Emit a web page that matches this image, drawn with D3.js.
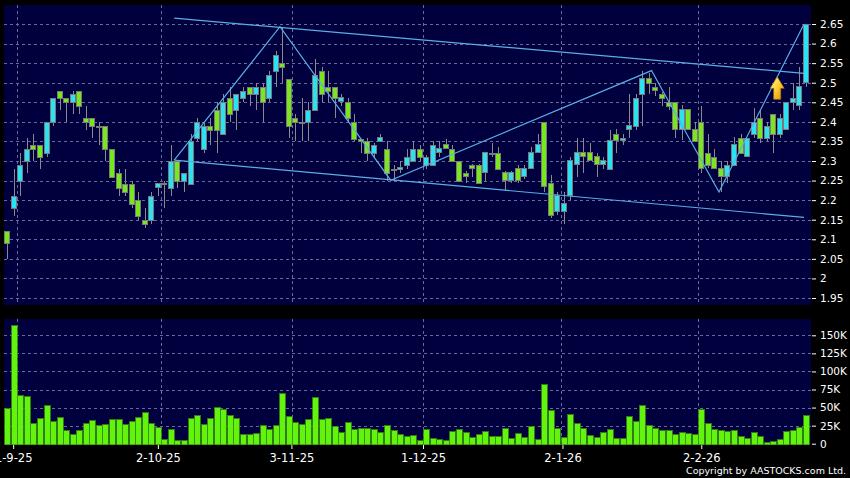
<!DOCTYPE html>
<html>
<head>
<meta charset="utf-8">
<script src="https://cdn.jsdelivr.net/npm/d3@7/dist/d3.min.js"></script>
<style>
  html, body { margin: 0; padding: 0; background: #000; }
  svg { display: block; font-family: "DejaVu Sans", Verdana, sans-serif; }
</style>
</head>
<body>
<svg id="chart" width="850" height="478"></svg>
<script>
'use strict';

// daily candles, index 0 = first bar on the left
var opens  = [2.12,2.18,2.25,2.30,2.34,2.34,2.32,2.40,2.48,2.46,2.45,2.48,2.41,2.41,2.39,2.39,2.33,2.27,2.24,2.24,
              2.20,2.15,2.15,2.233,2.243,2.23,2.30,2.25,2.24,2.36,2.33,2.39,2.43,2.37,2.46,2.43,2.46,2.49,2.47,2.49,
              2.46,2.53,2.55,2.51,2.41,2.40,2.40,2.43,2.53,2.49,2.49,2.453,2.45,2.40,2.355,2.35,2.32,2.352,2.33,2.28,
              2.28,2.29,2.30,2.33,2.29,2.29,2.322,2.343,2.33,2.30,2.27,2.291,2.29,2.272,2.32,2.32,2.272,2.251,2.281,2.262,
              2.281,2.322,2.40,2.245,2.172,2.172,2.213,2.292,2.322,2.322,2.313,2.292,2.28,2.37,2.353,2.381,2.39,2.47,2.511,2.49,
              2.471,2.452,2.452,2.381,2.432,2.381,2.40,2.321,2.311,2.281,2.262,2.291,2.36,2.313,2.37,2.411,2.36,2.42,2.37,2.381,
              2.452,2.443,2.503];
var highs  = [2.12,2.28,2.32,2.36,2.37,2.34,2.40,2.46,2.48,2.46,2.48,2.48,2.44,2.41,2.40,2.39,2.33,2.28,2.28,2.25,
              2.22,2.18,2.22,2.245,2.25,2.34,2.30,2.27,2.37,2.41,2.40,2.41,2.45,2.47,2.49,2.47,2.49,2.49,2.50,2.50,
              2.53,2.58,2.64,2.51,2.42,2.46,2.45,2.56,2.54,2.53,2.49,2.47,2.46,2.42,2.355,2.36,2.345,2.37,2.35,2.29,
              2.30,2.33,2.35,2.34,2.315,2.35,2.35,2.355,2.34,2.30,2.275,2.293,2.293,2.322,2.345,2.335,2.275,2.275,2.29,2.29,
              2.335,2.37,2.40,2.264,2.22,2.22,2.31,2.36,2.36,2.345,2.32,2.31,2.38,2.383,2.37,2.47,2.47,2.53,2.525,2.50,
              2.475,2.49,2.452,2.443,2.432,2.40,2.44,2.37,2.33,2.30,2.30,2.362,2.37,2.36,2.435,2.43,2.40,2.42,2.42,2.452,
              2.50,2.54,2.65];
var lows   = [2.05,2.16,2.21,2.27,2.30,2.28,2.31,2.39,2.43,2.40,2.42,2.42,2.38,2.36,2.34,2.30,2.26,2.21,2.21,2.18,
              2.15,2.13,2.14,2.21,2.18,2.21,2.23,2.22,2.24,2.35,2.32,2.34,2.32,2.37,2.40,2.38,2.45,2.44,2.43,2.40,
              2.45,2.49,2.50,2.36,2.35,2.35,2.35,2.43,2.45,2.45,2.41,2.44,2.40,2.35,2.32,2.30,2.31,2.35,2.25,2.25,
              2.27,2.28,2.30,2.30,2.28,2.29,2.31,2.33,2.30,2.25,2.243,2.26,2.24,2.25,2.31,2.28,2.223,2.245,2.245,2.255,
              2.28,2.32,2.22,2.155,2.162,2.14,2.20,2.26,2.27,2.30,2.26,2.28,2.28,2.32,2.34,2.36,2.38,2.39,2.47,2.465,
              2.44,2.43,2.36,2.354,2.38,2.35,2.27,2.281,2.28,2.22,2.243,2.29,2.32,2.31,2.36,2.345,2.35,2.32,2.36,2.38,
              2.43,2.43,2.49];
var closes = [2.09,2.21,2.29,2.33,2.33,2.31,2.40,2.46,2.46,2.45,2.47,2.44,2.40,2.39,2.39,2.33,2.26,2.23,2.22,2.19,
              2.16,2.14,2.21,2.243,2.243,2.30,2.25,2.27,2.35,2.40,2.39,2.38,2.38,2.45,2.42,2.47,2.48,2.47,2.49,2.45,
              2.52,2.57,2.54,2.39,2.40,2.40,2.43,2.52,2.47,2.48,2.46,2.463,2.41,2.355,2.35,2.32,2.34,2.361,2.27,2.28,
              2.285,2.31,2.33,2.31,2.31,2.34,2.332,2.332,2.30,2.25,2.262,2.283,2.245,2.322,2.32,2.28,2.252,2.272,2.251,2.281,
              2.322,2.343,2.235,2.162,2.213,2.192,2.302,2.322,2.313,2.302,2.292,2.302,2.353,2.353,2.36,2.392,2.462,2.511,2.50,2.482,
              2.462,2.441,2.381,2.432,2.381,2.352,2.281,2.291,2.281,2.262,2.291,2.343,2.321,2.36,2.40,2.36,2.39,2.37,2.411,2.452,
              2.462,2.492,2.65];
var volumes = [49900,164200,66900,66000,28200,35600,53500,31400,36900,18500,13400,19400,28200,33300,25900,27300,34600,34200,27300,31400,
               36500,43900,29100,23600,6500,20300,4700,5600,36000,39300,26800,36000,50300,48500,39300,36000,13400,13000,14800,26300,
               20800,25900,69700,38800,30500,27700,33700,64200,34600,36000,24900,16200,30000,20300,22200,22200,20800,16200,25900,19000,
               13900,11100,12500,5600,19900,7400,7000,5600,17600,19900,16200,9300,13900,18000,11100,11100,21300,7900,14800,9300,
               24500,6500,82600,47100,21700,9300,41100,28600,21700,12500,9300,16200,20300,7900,7900,38300,31000,53500,25400,21700,
               18500,18500,13900,16200,14300,13000,48500,28600,20300,19400,17600,19000,11100,7900,16200,10200,1900,3700,7000,17600,
               19000,23100,39700];

// month starts: grid lines sit between bars, labels at the bar positions
var monthGridIdx = [1.5, 23.5, 43.5, 63.5, 84.5, 105.5];
var dateTickIdx  = [0.9, 23, 43.4, 63.5, 84.8, 106];
var dateLabels   = ['1-9-25', '2-10-25', '3-11-25', '1-12-25', '2-1-26', '2-2-26'];

var priceTicks  = [1.95, 2, 2.05, 2.1, 2.15, 2.2, 2.25, 2.3, 2.35, 2.4, 2.45, 2.5, 2.55, 2.6, 2.65];
var volumeTicks = [0, 25000, 50000, 75000, 100000, 125000, 150000];

// drawn trend lines, [bar index, price]
var upperChannel = [[25.5, 2.665], [121.7, 2.524]];
var lowerChannel = [[25.5, 2.302], [121.7, 2.156]];
var zigzag = [[25.5, 2.302], [41.65, 2.643], [58.56, 2.251], [98.4, 2.531], [108.7, 2.221], [121.7, 2.65]];
var arrowAt = [117.6, 2.515];

var UP = '#2ae2f2', DOWN = '#78e81c', VOL = '#62f40c', LINE = '#5aaee6', BG = '#00003f', GRID = '#6a6a9a';

var svg = d3.select('#chart');
svg.append('rect').attr('width', 850).attr('height', 478).attr('fill', '#000');

var x = d3.scaleLinear().domain([-0.5, 122.5]).range([4, 809.3]);
var yP = d3.scaleLinear().domain([1.95, 2.65]).range([298, 24]);
var yV = d3.scaleLinear().domain([0, 150000]).range([443.7, 335.3]);

var pricePanel = {top: 5, bottom: 305}, volPanel = {top: 319, bottom: 444};
var left = 4, right = 811;

// panels
[pricePanel, volPanel].forEach(function(p) {
    svg.append('rect')
        .attr('x', left).attr('y', p.top)
        .attr('width', right - left).attr('height', p.bottom - p.top)
        .attr('fill', BG);
});

// grid
var grid = svg.append('g').attr('stroke', GRID).attr('stroke-width', 1)
    .attr('stroke-dasharray', '3,3').attr('shape-rendering', 'crispEdges');
grid.selectAll('.hp').data(priceTicks).enter().append('line')
    .attr('x1', left).attr('x2', right)
    .attr('y1', function(d) { return Math.round(yP(d)) + 0.5; })
    .attr('y2', function(d) { return Math.round(yP(d)) + 0.5; });
grid.selectAll('.hv').data(volumeTicks.slice(1)).enter().append('line')
    .attr('x1', left).attr('x2', right)
    .attr('y1', function(d) { return Math.round(yV(d)) + 0.5; })
    .attr('y2', function(d) { return Math.round(yV(d)) + 0.5; });
[pricePanel, volPanel].forEach(function(p) {
    grid.append('g').selectAll('line').data(monthGridIdx).enter().append('line')
        .attr('x1', function(d) { return Math.round(x(d)) + 0.5; })
        .attr('x2', function(d) { return Math.round(x(d)) + 0.5; })
        .attr('y1', p.top).attr('y2', p.bottom);
});

// candles
var idx = d3.range(opens.length);
var candles = svg.append('g').attr('shape-rendering', 'crispEdges');
candles.selectAll('.wick').data(idx).enter().append('line')
    .attr('x1', function(i) { return Math.round(x(i)) + 0.5; })
    .attr('x2', function(i) { return Math.round(x(i)) + 0.5; })
    .attr('y1', function(i) { return Math.round(yP(highs[i])); })
    .attr('y2', function(i) { return Math.round(yP(lows[i])); })
    .attr('stroke', '#8a8a8a');
candles.selectAll('.body').data(idx).enter().append('rect')
    .attr('x', function(i) { return Math.round(x(i)) - 2.5; })
    .attr('width', 5)
    .attr('y', function(i) { return Math.round(yP(Math.max(opens[i], closes[i]))) + 0.5; })
    .attr('height', function(i) {
        return Math.max(1, Math.round(yP(Math.min(opens[i], closes[i]))) - Math.round(yP(Math.max(opens[i], closes[i]))));
    })
    .attr('fill', function(i) { return closes[i] >= opens[i] ? UP : DOWN; })
    .attr('stroke', '#7a7a7a');

// trend lines
var line = d3.line().x(function(d) { return x(d[0]); }).y(function(d) { return yP(d[1]); });
svg.append('g').selectAll('path').data([upperChannel, lowerChannel, zigzag]).enter().append('path')
    .attr('d', line).attr('fill', 'none').attr('stroke', LINE).attr('stroke-width', 1.2);

// buy arrow
var defs = svg.append('defs');
var grad = defs.append('linearGradient').attr('id', 'arrowGrad')
    .attr('x1', '0%').attr('y1', '0%').attr('x2', '100%').attr('y2', '100%');
grad.append('stop').attr('offset', '0%').attr('stop-color', '#fff6a8');
grad.append('stop').attr('offset', '45%').attr('stop-color', '#ffd23a');
grad.append('stop').attr('offset', '100%').attr('stop-color', '#d98a00');
var ax = x(arrowAt[0]), ay = yP(arrowAt[1]);
svg.append('path')
    .attr('d', 'M' + ax + ',' + ay + 'l7,11.5h-3.5v11h-7v-11h-3.5z')
    .attr('fill', 'url(#arrowGrad)').attr('stroke', '#b87800').attr('stroke-width', 0.6);

// volume bars
svg.append('g').attr('shape-rendering', 'crispEdges')
    .selectAll('rect').data(idx).enter().append('rect')
    .attr('x', function(i) { return Math.round(x(i)) - 2.5; })
    .attr('width', 5.5)
    .attr('y', function(i) { return Math.round(yV(volumes[i])) + 0.5; })
    .attr('height', function(i) { return Math.max(0, Math.round(yV(0)) - Math.round(yV(volumes[i]))); })
    .attr('fill', VOL).attr('stroke', '#3c9a0c').attr('stroke-width', 0.8);

// axes
function styleAxis(g) {
    g.select('.domain').remove();
    g.selectAll('.tick line').attr('stroke', '#fff');
    g.selectAll('.tick text').attr('fill', '#fff').attr('font-family', '"DejaVu Sans", Verdana, sans-serif');
}
svg.append('g').attr('transform', 'translate(812,0)')
    .call(d3.axisRight(yP).tickValues(priceTicks).tickSize(4).tickPadding(4).tickFormat(d3.format('.2~f')))
    .attr('font-size', 10.5)
    .call(styleAxis);
svg.append('g').attr('transform', 'translate(812,0)')
    .call(d3.axisRight(yV).tickValues(volumeTicks).tickSize(4).tickPadding(4)
        .tickFormat(function(d) { return d === 0 ? '0' : (d / 1000) + 'K'; }))
    .attr('font-size', 10.5)
    .call(styleAxis);
svg.append('g').attr('transform', 'translate(0,445)')
    .call(d3.axisBottom(x).tickValues(dateTickIdx).tickSize(4).tickPadding(5)
        .tickFormat(function(d, i) { return dateLabels[i]; }))
    .attr('font-size', 11.5)
    .call(styleAxis);

svg.append('text')
    .attr('x', 846).attr('y', 474).attr('text-anchor', 'end')
    .attr('fill', '#fff').attr('font-size', 9.5)
    .text('Copyright by AASTOCKS.com Ltd.');
</script>
</body>
</html>
